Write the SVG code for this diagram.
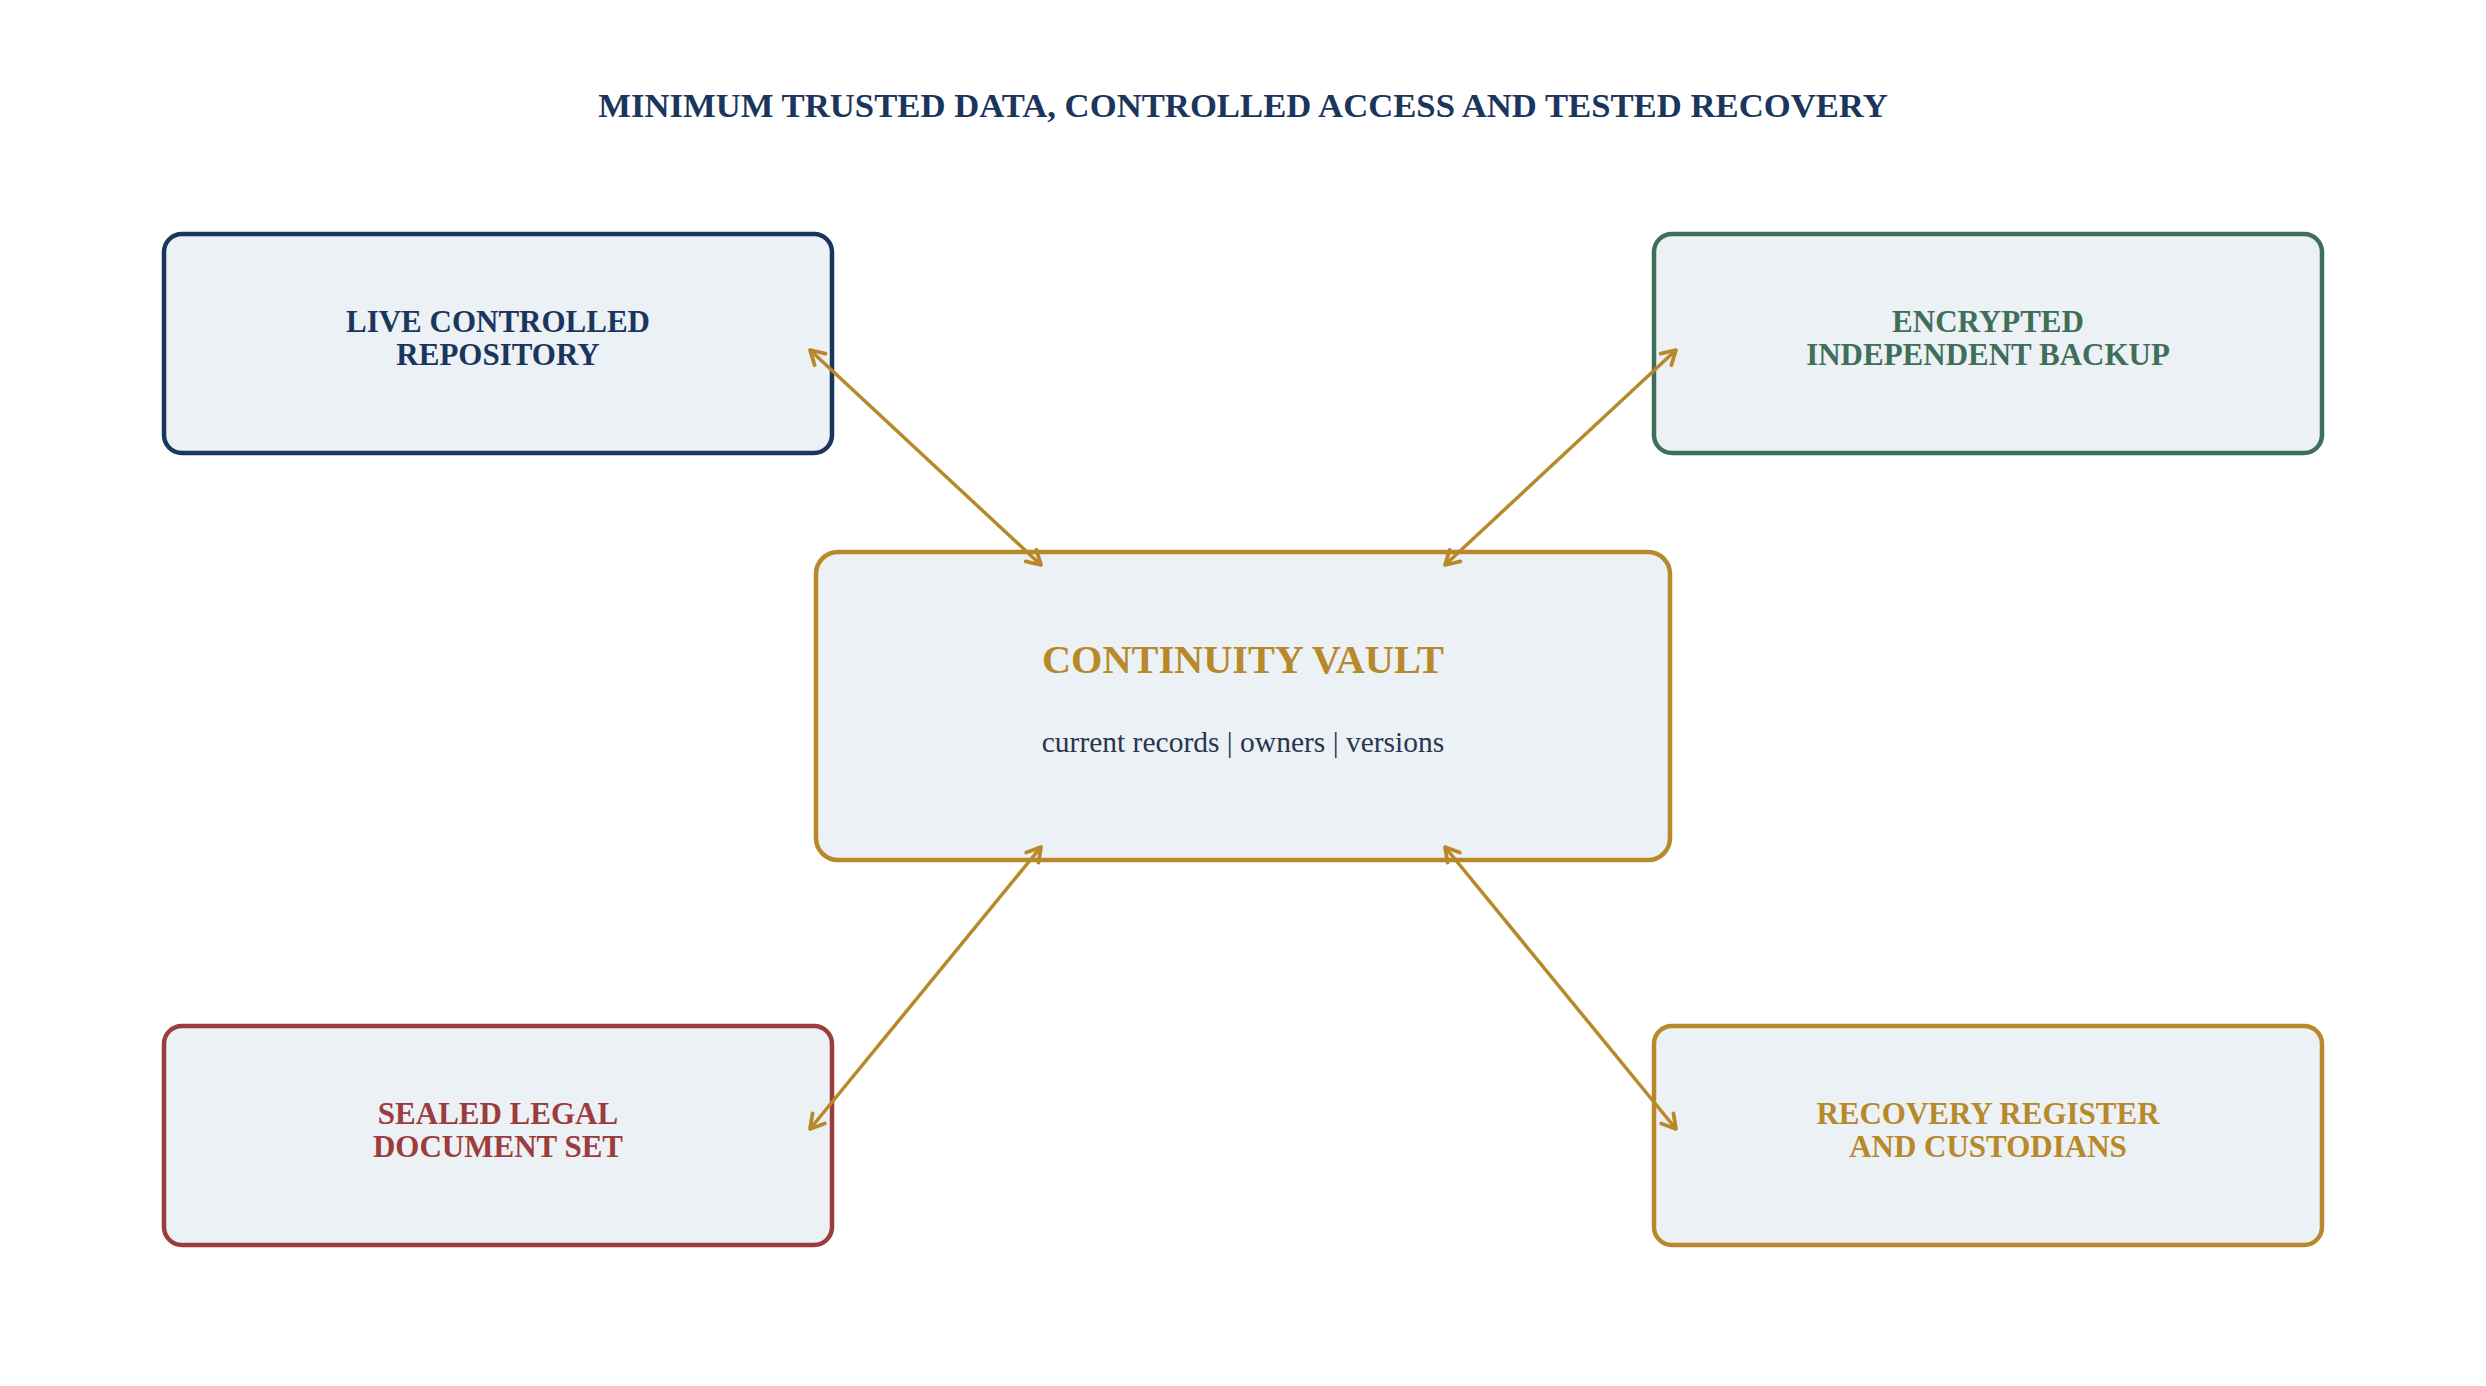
<svg xmlns="http://www.w3.org/2000/svg" width="2486" height="1386" viewBox="0 0 2486 1386">
  <defs>
    <style>
      .box { fill: #ecf1f5; stroke-width: 4.5; }
      .lbl { font-family: "Liberation Serif", "Times New Roman", serif; font-weight: bold; font-size: 31px; text-anchor: middle; }
      .conn { stroke: #b8892a; stroke-width: 3.5; fill: none; marker-start: url(#arr); marker-end: url(#arr); }
    </style>
    <marker id="arr" markerUnits="userSpaceOnUse" viewBox="-17 -11 19 22" refX="0" refY="0" markerWidth="19" markerHeight="22" orient="auto-start-reverse">
      <path d="M-13.7,-7.9 L0,0 L-13.7,7.9" fill="none" stroke="#b8892a" stroke-width="3.8" stroke-linecap="round" stroke-linejoin="round"/>
    </marker>
  </defs>
  <rect width="2486" height="1386" fill="#ffffff"/>
  <text x="1243" y="117" font-family="'Liberation Serif', 'Times New Roman', serif" font-weight="bold" font-size="34.7" fill="#1b365d" text-anchor="middle">MINIMUM TRUSTED DATA, CONTROLLED ACCESS AND TESTED RECOVERY</text>

  <g id="node-live">
    <rect class="box" x="164" y="234" width="668" height="219" rx="18" stroke="#1b365d"/>
    <text class="lbl" fill="#1b365d"><tspan x="498" y="332">LIVE CONTROLLED</tspan><tspan x="498" y="365">REPOSITORY</tspan></text>
  </g>
  <g id="node-backup">
    <rect class="box" x="1654" y="234" width="668" height="219" rx="18" stroke="#3f6f58"/>
    <text class="lbl" fill="#3f6f58"><tspan x="1988" y="332">ENCRYPTED</tspan><tspan x="1988" y="365">INDEPENDENT BACKUP</tspan></text>
  </g>
  <g id="node-legal">
    <rect class="box" x="164" y="1026" width="668" height="219" rx="18" stroke="#9c3c3c"/>
    <text class="lbl" fill="#9c3c3c"><tspan x="498" y="1124">SEALED LEGAL</tspan><tspan x="498" y="1157">DOCUMENT SET</tspan></text>
  </g>
  <g id="node-register">
    <rect class="box" x="1654" y="1026" width="668" height="219" rx="18" stroke="#b8892a"/>
    <text class="lbl" fill="#b8892a"><tspan x="1988" y="1124">RECOVERY REGISTER</tspan><tspan x="1988" y="1157">AND CUSTODIANS</tspan></text>
  </g>
  <g id="node-vault">
    <rect class="box" x="816" y="552" width="854" height="308" rx="22" stroke="#b8892a" stroke-width="7"/>
    <text x="1243" y="673" font-family="'Liberation Serif', 'Times New Roman', serif" font-weight="bold" font-size="40.3" fill="#b8892a" text-anchor="middle">CONTINUITY VAULT</text>
    <text x="1243" y="752" font-family="'Liberation Serif', 'Times New Roman', serif" font-size="29.5" fill="#2a3550" text-anchor="middle">current records | owners | versions</text>
  </g>

  <g id="connectors">
    <line class="conn" x1="810" y1="350" x2="1041" y2="565"/>
    <line class="conn" x1="1676" y1="350" x2="1445" y2="565"/>
    <line class="conn" x1="1041" y1="847" x2="810" y2="1129"/>
    <line class="conn" x1="1445" y1="847" x2="1676" y2="1129"/>
  </g>
</svg>
